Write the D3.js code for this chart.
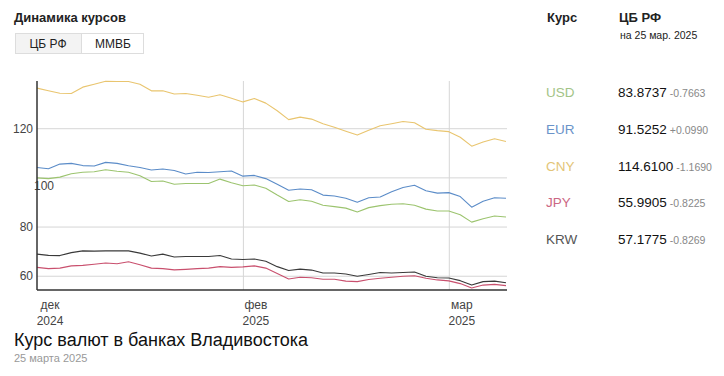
<html>
<head>
<meta charset="utf-8">
<script src="https://d3js.org/d3.v7.min.js"></script>
<style>
    body { margin:0; background:#fff; }
    svg text { font-family: Arial, "Liberation Sans", sans-serif; }
    .grids line { stroke:#d6d6d6; }
    .grids .domain { stroke:none; }
    .y-axis .domain, .y-axis line, .x-axis line { stroke:none; }
    .y-axis text { fill:#444; font-size:12px; }
</style>
</head>
<body>
<svg id="plot1" width="724" height="376"></svg>
<script>
    // values, one point per step, 42 steps from early Dec to Mar 25
    const currencies = ['USD', 'EUR', 'CNY', 'JPY', 'KRW'];
    const usd = [99.8,99.5,100.1,101.5,102.1,102.3,103.1,102.5,102.1,100.7,98.3,98.5,97.2,97.5,97.5,97.5,99.3,97.8,96.6,96.9,95.6,92.8,90.2,90.9,90.3,88.7,88.1,87.5,85.9,87.7,88.5,89.1,89.3,88.7,87.1,86.3,86.3,84.8,81.8,83.2,84.3,83.87];
    const eur = [104.0,103.5,105.4,105.7,104.8,104.6,106.1,105.7,104.7,104.0,103.0,103.4,102.8,101.4,102.1,102.0,102.3,102.6,100.5,100.8,99.5,97.2,94.8,95.3,95.0,92.8,92.4,91.5,89.9,91.7,92.0,94.2,95.9,96.8,94.6,93.6,93.8,92.2,87.9,90.3,91.7,91.53];
    const cny = [136.3,135.2,134.2,134.1,136.7,137.9,139.1,139.0,139.0,137.9,135.2,135.2,133.9,134.1,133.4,132.6,133.6,132.2,130.7,132.1,130.2,127.1,123.5,124.5,123.7,121.8,120.4,118.8,117.2,119.2,121.0,121.8,122.7,122.2,119.6,119.0,118.6,116.3,112.7,114.4,115.7,114.61];
    const jpy = [63.4,62.9,63.1,64.0,64.2,64.7,65.2,64.9,65.7,64.5,63.1,62.9,62.4,62.6,62.9,63.1,63.7,63.4,63.6,64.0,63.1,60.9,58.7,59.4,59.2,58.6,58.6,57.8,57.6,58.5,59.0,59.4,59.8,60.0,59.0,58.3,57.9,56.8,55.0,56.2,56.5,55.99];
    const krw = [68.8,68.3,68.2,69.4,70.1,70.0,70.1,70.1,70.1,69.2,68.0,68.8,67.6,67.8,67.8,67.8,68.2,66.8,66.6,66.8,65.9,63.7,62.1,62.7,62.3,61.1,61.1,60.7,59.8,60.5,61.3,61.1,61.3,61.5,59.8,59.2,59.1,58.0,56.2,57.6,57.8,57.18];

    const lastRate = [83.8737, 91.5252, 114.61, 55.9905, 57.1775];
    const lastChange = ['-0.7663', '+0.0990', '-1.1690', '-0.8225', '-0.8269'];

    const tickIndex = [0, 18, 36];
    const tickMonth = ['дек', 'фев', 'мар'];
    const tickYear = ['2024', '2025', '2025'];
    const yTicks = [60, 80, 100, 120];

    const lineColors = ['#9cc46f', '#5b8cc8', '#e9c56f', '#c9506e', '#3a3a3a'];
    const labelColors = ['#a3c487', '#6a93c9', '#e3c578', '#cc6683', '#555'];

    const margin = {left:37, top:81, bottom:86, right:218};
    let svg = d3.select('svg#plot1');
    let inner_width = svg.attr('width') - margin.left - margin.right;
    let inner_height = svg.attr('height') - margin.top - margin.bottom;

    const series = [usd, eur, cny, jpy, krw];

    let xscale = d3.scaleLinear()
                   .domain([0, usd.length - 1])
                   .range([0, inner_width]);
    let yscale = d3.scaleLinear()
                   .domain([54.2, 139.2])
                   .range([inner_height, 0]);

    let plot = svg.append('g')
                  .attr('transform', `translate(${margin.left},${margin.top})`);

    // gridlines
    plot.append('g')
        .attr('class', 'grids')
        .call(d3.axisLeft(yscale).tickValues(yTicks).tickFormat('').tickSize(-inner_width-1));

    plot.append('g')
        .attr('class', 'grids')
        .attr('transform', `translate(0,${inner_height})`)
        .call(d3.axisBottom(xscale).tickValues(tickIndex.slice(1)).tickFormat('').tickSize(-inner_height));

    // y labels
    let yAxis = plot.append('g')
        .attr('class', 'y-axis')
        .call(d3.axisLeft(yscale).tickValues(yTicks).tickSize(0).tickPadding(4));
    yAxis.selectAll('.tick').filter(d => d === 100).select('text')
        .attr('text-anchor', 'start')
        .attr('x', -3)
        .attr('dy', '1.05em');

    // lines
    let line = d3.line()
                 .x((d, i) => xscale(i))
                 .y(d => yscale(d));

    plot.selectAll('path.rate')
        .data(series)
        .join('path')
        .attr('class', 'rate')
        .attr('d', d => line(d))
        .attr('fill', 'none')
        .attr('stroke', (d, i) => lineColors[i])
        .attr('stroke-width', 1.1)
        .attr('stroke-linejoin', 'round');

    // axis lines
    plot.append('line')
        .attr('x1', 0).attr('x2', 0)
        .attr('y1', 0).attr('y2', inner_height)
        .attr('stroke', '#333').attr('stroke-width', 1.5);
    plot.append('line')
        .attr('x1', 0).attr('x2', inner_width + 1)
        .attr('y1', inner_height).attr('y2', inner_height)
        .attr('stroke', '#333').attr('stroke-width', 1.5);

    // x labels
    let xlabels = plot.selectAll('g.xlab')
        .data(tickIndex)
        .join('g')
        .attr('class', 'xlab')
        .attr('transform', d => `translate(${xscale(d) + 13},${inner_height})`);
    xlabels.append('text')
        .attr('y', 19)
        .attr('text-anchor', 'middle')
        .attr('font-size', 12)
        .attr('fill', '#444')
        .text((d, i) => tickMonth[i]);
    xlabels.append('text')
        .attr('y', 35)
        .attr('text-anchor', 'middle')
        .attr('font-size', 12)
        .attr('fill', '#444')
        .text((d, i) => tickYear[i]);

    // header and tabs
    svg.append('text')
       .attr('x', 14).attr('y', 22)
       .attr('font-size', 13).attr('font-weight', 'bold').attr('fill', '#222')
       .text('Динамика курсов');

    svg.append('rect')
       .attr('x', 15.5).attr('y', 33.5).attr('width', 66).attr('height', 20)
       .attr('fill', '#f3f3f3').attr('stroke', '#ddd');
    svg.append('rect')
       .attr('x', 81.5).attr('y', 33.5).attr('width', 62).attr('height', 20)
       .attr('fill', '#fff').attr('stroke', '#ddd');
    svg.append('text')
       .attr('x', 48).attr('y', 48).attr('text-anchor', 'middle')
       .attr('font-size', 12).attr('fill', '#222')
       .text('ЦБ РФ');
    svg.append('text')
       .attr('x', 113).attr('y', 48).attr('text-anchor', 'middle')
       .attr('font-size', 12).attr('fill', '#222')
       .text('ММВБ');

    // table on the right
    svg.append('text')
       .attr('x', 547).attr('y', 22)
       .attr('font-size', 13).attr('font-weight', 'bold').attr('fill', '#222')
       .text('Курс');
    svg.append('text')
       .attr('x', 619).attr('y', 22)
       .attr('font-size', 13).attr('font-weight', 'bold').attr('fill', '#222')
       .text('ЦБ РФ');
    svg.append('text')
       .attr('x', 620).attr('y', 39)
       .attr('font-size', 10.5).attr('fill', '#222')
       .text('на 25 мар. 2025');

    let rowscale = d3.scalePoint()
                     .domain(currencies)
                     .range([97, 244]);

    let rows = svg.selectAll('g.row')
        .data(currencies)
        .join('g')
        .attr('class', 'row')
        .attr('transform', d => `translate(0,${rowscale(d)})`);

    rows.append('text')
        .attr('x', 546)
        .attr('font-size', 13.5)
        .attr('fill', (d, i) => labelColors[i])
        .text(d => d);

    rows.each(function(d, i) {
        let g = d3.select(this);
        let val = g.append('text')
            .attr('x', 618)
            .attr('font-size', 13.5)
            .attr('fill', '#111')
            .text(lastRate[i].toFixed(4));
        let w = val.node().getComputedTextLength();
        g.append('text')
            .attr('x', 618 + w + 3)
            .attr('font-size', 10.5)
            .attr('fill', '#888')
            .text(lastChange[i]);
    });

    // bottom caption
    svg.append('text')
       .attr('x', 14).attr('y', 346)
       .attr('font-size', 18).attr('fill', '#111')
       .text('Курс валют в банках Владивостока');
    svg.append('text')
       .attr('x', 14).attr('y', 362)
       .attr('font-size', 11).attr('fill', '#999')
       .text('25 марта 2025');
</script>
</body>
</html>
